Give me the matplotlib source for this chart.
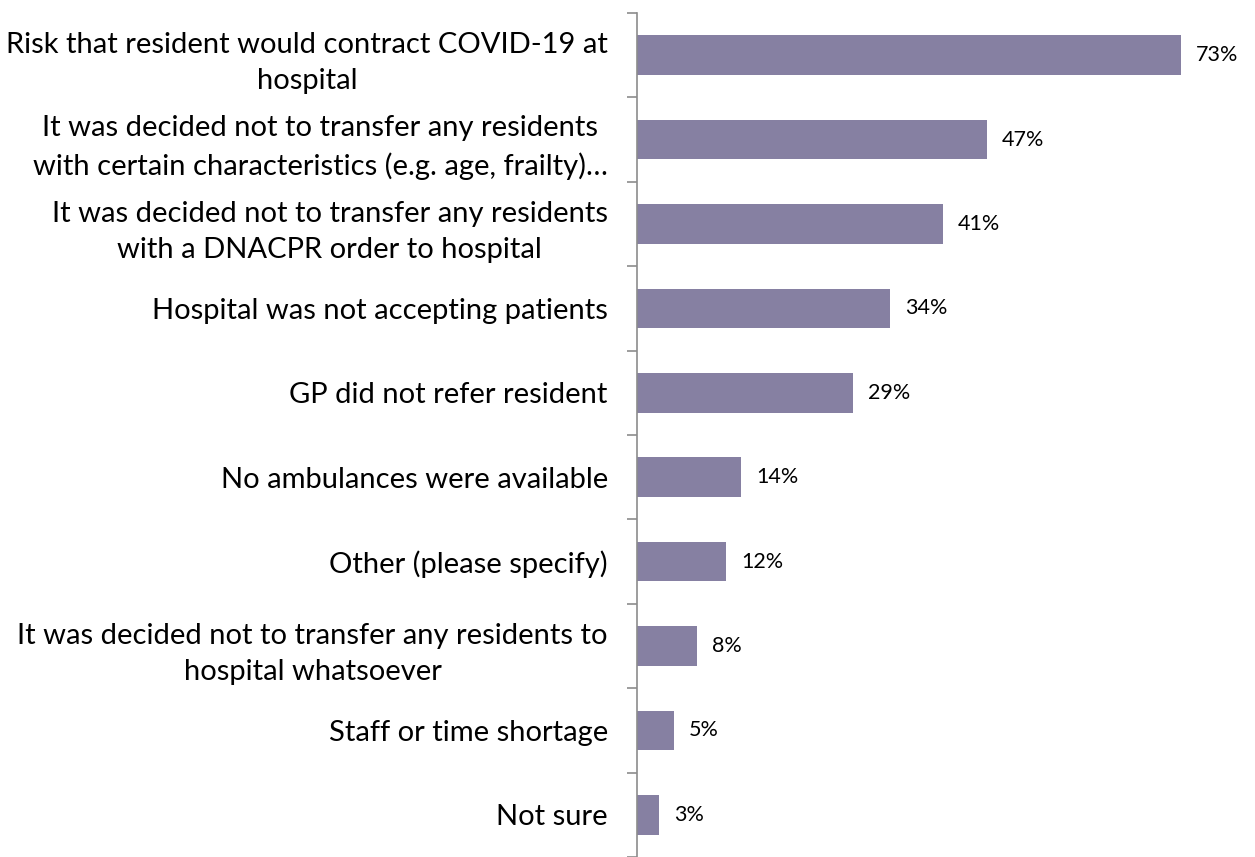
import numpy as np
import matplotlib.pyplot as plt

reasons = [
    "Risk that resident would contract COVID-19 at\nhospital",
    "It was decided not to transfer any residents\nwith certain characteristics (e.g. age, frailty)\u2026",
    "It was decided not to transfer any residents\nwith a DNACPR order to hospital",
    "Hospital was not accepting patients",
    "GP did not refer resident",
    "No ambulances were available",
    "Other (please specify)",
    "It was decided not to transfer any residents to\nhospital whatsoever",
    "Staff or time shortage",
    "Not sure",
]
shares = [73, 47, 41, 34, 29, 14, 12, 8, 5, 3]

plt.rcParams['font.family'] = ['Lato', 'DejaVu Sans']

fig = plt.figure(figsize=(12.55, 8.57), dpi=100)
ax = fig.add_axes([0.5076, 0.0, 0.475, 0.9848])

y = np.arange(len(reasons))[::-1]
bars = ax.barh(y, shares, height=0.47, color='#8680A2')
for b, v in zip(bars, shares):
    ax.text(b.get_width() + 2.0, b.get_y() + b.get_height() / 2, f"{v}%",
            va='center', ha='left', fontsize=15.5)

ax.set_xlim(0, 80)
ax.set_ylim(-0.5, len(reasons) - 0.5)
ax.set_yticks(y)
ax.set_yticklabels(reasons, fontsize=21)
for lbl in ax.get_yticklabels():
    lbl.set_multialignment('center')
    lbl.set_linespacing(1.5)
ax.tick_params(axis='y', which='major', length=0, pad=21)
ax.set_yticks(np.arange(-0.5, len(reasons)), minor=True)
ax.tick_params(axis='y', which='minor', length=7, color='#8c8c8c', width=1.2)
ax.set_xticks([])

for side in ['top', 'right', 'bottom']:
    ax.spines[side].set_visible(False)
ax.spines['left'].set_color('#8c8c8c')
ax.spines['left'].set_linewidth(1.2)

fig.savefig('out.png', dpi=100)
